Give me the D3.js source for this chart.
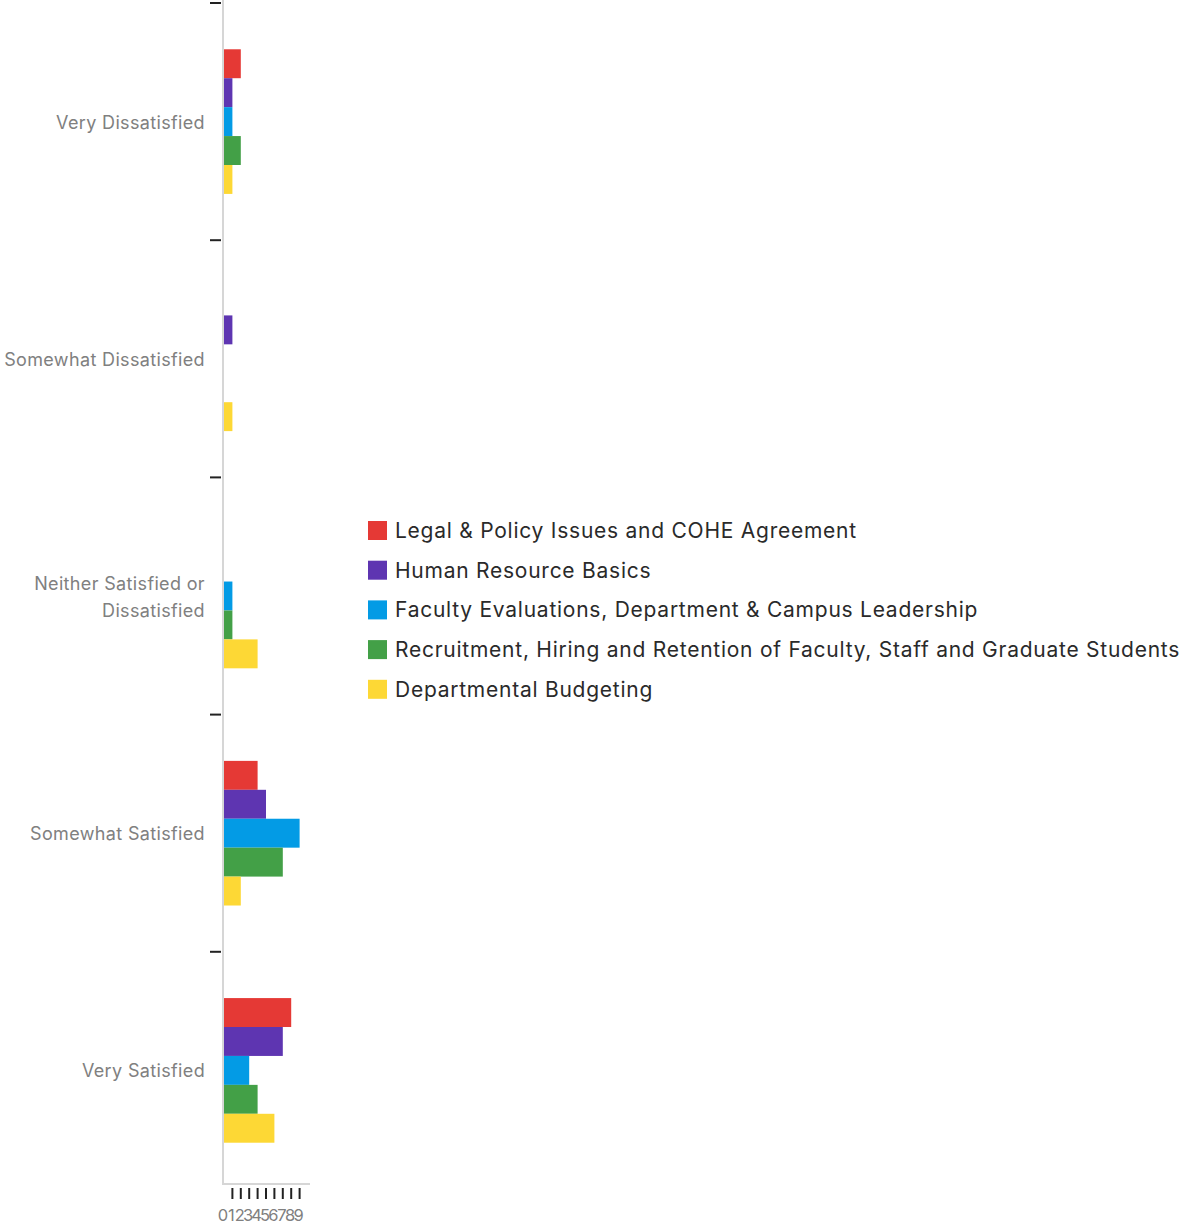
<!DOCTYPE html>
<html>
<head>
<meta charset="utf-8">
<script src="https://cdn.jsdelivr.net/npm/d3@7"></script>
<style>
  body { margin: 0; background: #fff; }
  svg { display: block; font-family: Inter, "Noto Sans", sans-serif; }
</style>
</head>
<body>
<div id="chart"></div>
<script>
// ============================================================================
// data
// ============================================================================

// answer categories (one band each, top to bottom)
const categories = [
    "Very Dissatisfied",
    "Somewhat Dissatisfied",
    "Neither Satisfied or Dissatisfied",
    "Somewhat Satisfied",
    "Very Satisfied"
];

// series names (legend order)
const seriesNames = [
    "Legal & Policy Issues and COHE Agreement",
    "Human Resource Basics",
    "Faculty Evaluations, Department & Campus Leadership",
    "Recruitment, Hiring and Retention of Faculty, Staff and Graduate Students",
    "Departmental Budgeting"
];

// counts per series, in category order
const legalPolicy   = [2, 0, 0, 4, 8];
const hrBasics      = [1, 1, 0, 5, 7];
const facultyEval   = [1, 0, 1, 9, 3];
const recruitment   = [2, 0, 1, 7, 4];
const budgeting     = [1, 1, 4, 2, 6];

const seriesValues = [legalPolicy, hrBasics, facultyEval, recruitment, budgeting];

// x tick labels
const xTicks = [0, 1, 2, 3, 4, 5, 6, 7, 8, 9];

const palette = ["#E53935", "#5E35B1", "#039BE5", "#43A047", "#FDD835"];

// ============================================================================
// chart
// ============================================================================

const width = 1185;
const height = 1226;

const svg = d3.select("#chart")
    .append("svg")
    .attr("width", width)
    .attr("height", height);

const x = d3.scaleLinear()
    .domain([0, 9])
    .range([224, 299.6]);

const y0 = d3.scaleBand()
    .domain(categories)
    .range([3, 1189])
    .padding(0);

const y1 = d3.scaleBand()
    .domain(seriesNames)
    .range([0, y0.bandwidth()])
    .paddingInner(0)
    .paddingOuter(1.6);

// vertical + bottom axis lines (gray)
svg.append("path")
    .attr("d", `M${x(0) - 1},0 V1184 H310`)
    .attr("fill", "none")
    .attr("stroke", "#d6d6d6")
    .attr("stroke-width", 2);

// band ticks on the left
svg.append("g")
    .selectAll("line")
    .data(categories)
    .join("line")
    .attr("x1", 210)
    .attr("x2", 221)
    .attr("y1", d => y0(d))
    .attr("y2", d => y0(d))
    .attr("stroke", "#222")
    .attr("stroke-width", 2);

// category labels
const catLabel = svg.append("g")
    .selectAll("text")
    .data(categories)
    .join("text")
    .attr("x", 205)
    .attr("y", d => y0(d) + y0.bandwidth() / 2)
    .attr("text-anchor", "end")
    .attr("fill", "#808080")
    .style("font-size", "18px")
    .style("letter-spacing", "0.35px");

catLabel.each(function(d) {
    const t = d3.select(this);
    // long label wraps in two lines
    const lines = d === "Neither Satisfied or Dissatisfied"
        ? ["Neither Satisfied or", "Dissatisfied"]
        : [d];
    const lh = 27;
    lines.forEach((line, i) => {
        t.append("tspan")
            .attr("x", 205)
            .attr("dy", i === 0 ? (-(lines.length - 1) * lh / 2 + 7) : lh)
            .text(line);
    });
});

// bars
const group = svg.append("g")
    .selectAll("g")
    .data(categories)
    .join("g")
    .attr("transform", d => `translate(0,${y0(d)})`);

group.selectAll("rect")
    .data((d, ci) => seriesNames.map((s, si) => ({ s, si, v: seriesValues[si][ci] })))
    .join("rect")
    .attr("x", x(0))
    .attr("y", d => y1(d.s))
    .attr("width", d => x(d.v) - x(0))
    .attr("height", y1.bandwidth())
    .attr("fill", d => palette[d.si]);

// bottom ticks (0 tick hidden by the axis corner)
const xAxis = svg.append("g");

xAxis.selectAll("line")
    .data(xTicks.filter(d => d > 0))
    .join("line")
    .attr("x1", d => x(d))
    .attr("x2", d => x(d))
    .attr("y1", 1188)
    .attr("y2", 1199)
    .attr("stroke", "#222")
    .attr("stroke-width", 2);

xAxis.selectAll("text")
    .data(xTicks)
    .join("text")
    .attr("x", d => x(d) - 1)
    .attr("y", 1221)
    .attr("text-anchor", "middle")
    .attr("fill", "#808080")
    .style("font-size", "16.5px")
    .text(d => d);

// legend
const legend = svg.append("g")
    .selectAll("g")
    .data(seriesNames)
    .join("g")
    .attr("transform", (d, i) => `translate(368,${521 + i * 39.7})`);

legend.append("rect")
    .attr("width", 19)
    .attr("height", 19)
    .attr("fill", (d, i) => palette[i]);

legend.append("text")
    .attr("x", 27)
    .attr("y", 17)
    .attr("fill", "#2a2a2a")
    .style("font-size", "21px")
    .style("letter-spacing", "0.75px")
    .text(d => d);
</script>
</body>
</html>
